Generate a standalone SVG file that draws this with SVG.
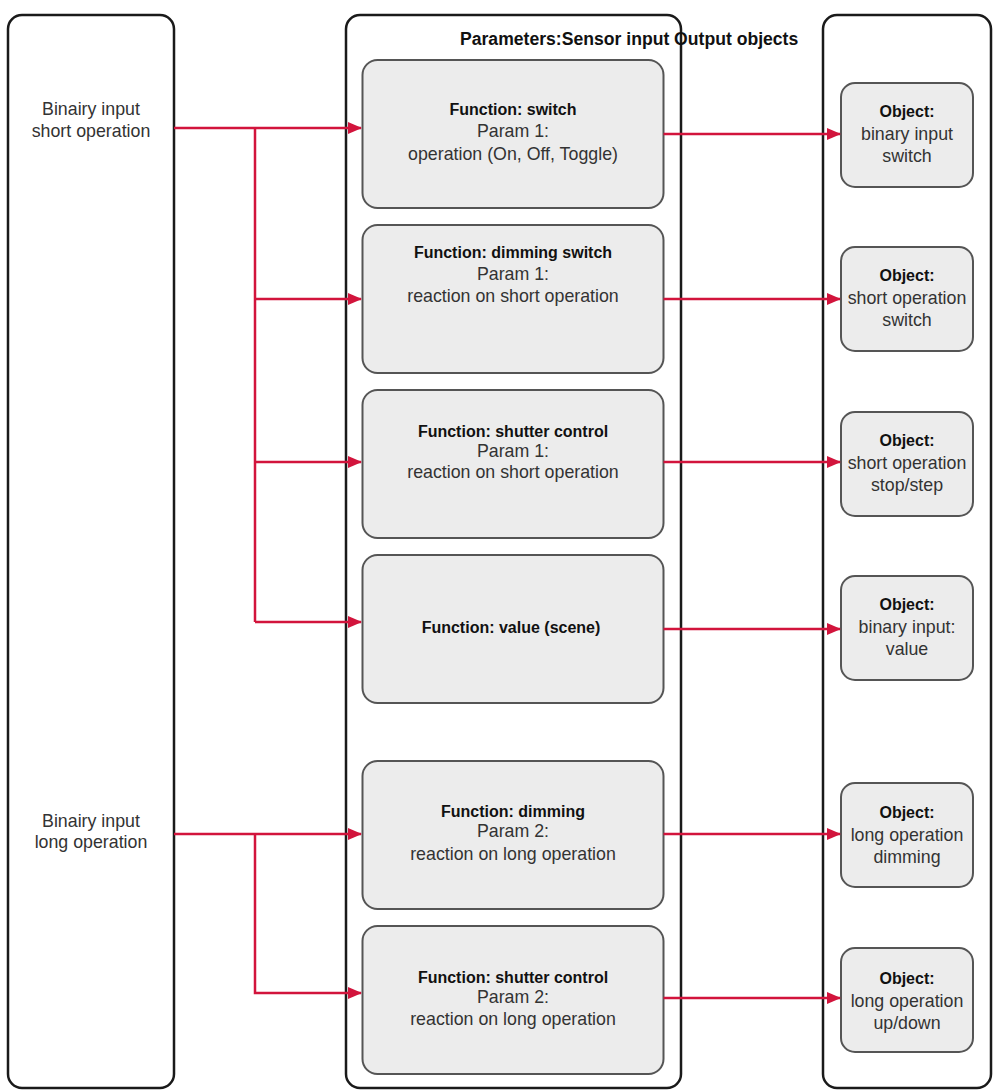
<svg xmlns="http://www.w3.org/2000/svg" width="993" height="1092" viewBox="0 0 993 1092">
<style>
.cont{fill:#fff;stroke:#1a1a1a;stroke-width:2.5}
.fbox{fill:#ececec;stroke:#555;stroke-width:2}
.obox{fill:#ececec;stroke:#555;stroke-width:2}
text{font-family:"Liberation Sans",Arial,sans-serif;text-anchor:middle}
.r{font-size:17.8px;fill:#333}
.b{font-size:16px;font-weight:bold;fill:#111}
.h{font-size:17.6px;font-weight:bold;fill:#111;text-anchor:start}
.ln{fill:none;stroke:#d2143c;stroke-width:2.5}
</style>
<defs>
<marker id="ah" markerUnits="userSpaceOnUse" markerWidth="14" markerHeight="12" refX="13" refY="6" orient="auto">
<path d="M0,0 L14,6 L0,12 z" fill="#d2143c"/>
</marker>
</defs>

<g id="containers">
<rect class="cont" x="8" y="15" width="166" height="1073" rx="14"/>
<rect class="cont" x="346" y="15" width="335" height="1073" rx="14"/>
<rect class="cont" x="823" y="15" width="168" height="1073" rx="14"/>
<text class="h" x="460" y="45">Parameters:Sensor input Output objects</text>
</g>

<g id="in-short">
<text class="r" x="91" y="115">Binairy input</text>
<text class="r" x="91" y="137">short operation</text>
</g>
<g id="in-long">
<text class="r" x="91" y="827">Binairy input</text>
<text class="r" x="91" y="848">long operation</text>
</g>

<g id="f1">
<rect class="fbox" x="362.5" y="60" width="301" height="148" rx="15"/>
<text class="b" x="513" y="115">Function: switch</text>
<text class="r" x="513" y="137">Param 1:</text>
<text class="r" x="513" y="160">operation (On, Off, Toggle)</text>
</g>
<g id="f2">
<rect class="fbox" x="362.5" y="225" width="301" height="148" rx="15"/>
<text class="b" x="513" y="258">Function: dimming switch</text>
<text class="r" x="513" y="280">Param 1:</text>
<text class="r" x="513" y="302">reaction on short operation</text>
</g>
<g id="f3">
<rect class="fbox" x="362.5" y="390" width="301" height="148" rx="15"/>
<text class="b" x="513" y="437">Function: shutter control</text>
<text class="r" x="513" y="457">Param 1:</text>
<text class="r" x="513" y="478">reaction on short operation</text>
</g>
<g id="f4">
<rect class="fbox" x="362.5" y="555" width="301" height="148" rx="15"/>
<text class="b" x="511" y="633">Function: value (scene)</text>
</g>
<g id="f5">
<rect class="fbox" x="362.5" y="761" width="301" height="148" rx="15"/>
<text class="b" x="513" y="817">Function: dimming</text>
<text class="r" x="513" y="837">Param 2:</text>
<text class="r" x="513" y="860">reaction on long operation</text>
</g>
<g id="f6">
<rect class="fbox" x="362.5" y="926" width="301" height="148" rx="15"/>
<text class="b" x="513" y="983">Function: shutter control</text>
<text class="r" x="513" y="1003">Param 2:</text>
<text class="r" x="513" y="1025">reaction on long operation</text>
</g>

<g id="o1">
<rect class="obox" x="841" y="83" width="132" height="104" rx="14"/>
<text class="b" x="907" y="117">Object:</text>
<text class="r" x="907" y="140">binary input</text>
<text class="r" x="907" y="162">switch</text>
</g>
<g id="o2">
<rect class="obox" x="841" y="247" width="132" height="104" rx="14"/>
<text class="b" x="907" y="281">Object:</text>
<text class="r" x="907" y="304">short operation</text>
<text class="r" x="907" y="326">switch</text>
</g>
<g id="o3">
<rect class="obox" x="841" y="412" width="132" height="104" rx="14"/>
<text class="b" x="907" y="446">Object:</text>
<text class="r" x="907" y="469">short operation</text>
<text class="r" x="907" y="491">stop/step</text>
</g>
<g id="o4">
<rect class="obox" x="841" y="576" width="132" height="104" rx="14"/>
<text class="b" x="907" y="610">Object:</text>
<text class="r" x="907" y="633">binary input:</text>
<text class="r" x="907" y="655">value</text>
</g>
<g id="o5">
<rect class="obox" x="841" y="783" width="132" height="104" rx="14"/>
<text class="b" x="907" y="818">Object:</text>
<text class="r" x="907" y="841">long operation</text>
<text class="r" x="907" y="863">dimming</text>
</g>
<g id="o6">
<rect class="obox" x="841" y="948" width="132" height="104" rx="14"/>
<text class="b" x="907" y="984">Object:</text>
<text class="r" x="907" y="1007">long operation</text>
<text class="r" x="907" y="1029">up/down</text>
</g>

<g id="connectors">
<path class="ln" d="M174,128 H361" marker-end="url(#ah)"/>
<path class="ln" d="M255,128 V622"/>
<path class="ln" d="M255,299 H361" marker-end="url(#ah)"/>
<path class="ln" d="M255,462 H361" marker-end="url(#ah)"/>
<path class="ln" d="M255,622 H361" marker-end="url(#ah)"/>
<path class="ln" d="M174,834 H361" marker-end="url(#ah)"/>
<path class="ln" d="M255,834 V993 H361" marker-end="url(#ah)"/>
<path class="ln" d="M663.5,134 H840" marker-end="url(#ah)"/>
<path class="ln" d="M663.5,299 H840" marker-end="url(#ah)"/>
<path class="ln" d="M663.5,462 H840" marker-end="url(#ah)"/>
<path class="ln" d="M663.5,629 H840" marker-end="url(#ah)"/>
<path class="ln" d="M663.5,834 H840" marker-end="url(#ah)"/>
<path class="ln" d="M663.5,998 H840" marker-end="url(#ah)"/>
</g>
</svg>
